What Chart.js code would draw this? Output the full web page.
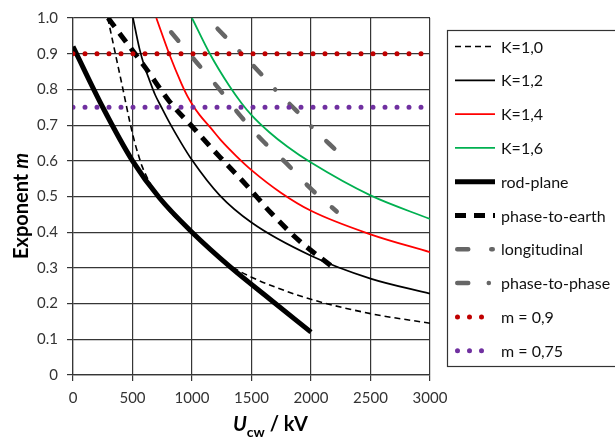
<!DOCTYPE html>
<html>
<head>
<meta charset="utf-8">
<script src="https://cdn.jsdelivr.net/npm/chart.js@4.4.1/dist/chart.umd.min.js"></script>
<style>
  html, body { margin: 0; padding: 0; background: #fff; }
  #wrap { width: 615px; height: 437px; }
</style>
</head>
<body>
<div id="wrap"><canvas id="chart" width="615" height="437"></canvas></div>
<script>
// values (U in kV, m exponent)
const k10U = [292, 356, 420, 480, 520, 546, 580, 620, 670, 714, 800, 1000, 1200, 1340, 1500, 1709, 2000, 2500, 3000]
const k10M = [1.0, 0.9, 0.8, 0.705, 0.65, 0.62, 0.585, 0.555, 0.524, 0.503, 0.463, 0.398, 0.338, 0.302, 0.274, 0.245, 0.212, 0.172, 0.145]

const k12U = [504, 560, 600, 640, 690, 743, 812, 900, 1000, 1233, 1500, 2000, 2500, 3000]
const k12M = [1.0, 0.912, 0.865, 0.828, 0.785, 0.75, 0.706, 0.655, 0.602, 0.503, 0.427, 0.334, 0.27, 0.228]

const k14U = [700, 808, 913, 960, 1008, 1065, 1150, 1250, 1370, 1500, 1750, 2000, 2500, 3000]
const k14M = [1.0, 0.9, 0.815, 0.782, 0.755, 0.728, 0.695, 0.655, 0.614, 0.574, 0.51, 0.46, 0.394, 0.344]

const k16U = [1000, 1150, 1317, 1415, 1500, 1650, 1800, 2000, 2500, 3000]
const k16M = [1.0, 0.9, 0.808, 0.762, 0.728, 0.68, 0.64, 0.595, 0.503, 0.437]

const rodU = [0, 250, 500, 729, 1000, 1331, 1653, 2000]
const rodM = [0.92, 0.75, 0.6, 0.495, 0.4, 0.3, 0.213, 0.12]

const pteU = [295, 398, 608, 804, 1023, 1233, 1457, 1667, 1905, 2149, 2190]
const pteM = [1.0, 0.954, 0.861, 0.769, 0.688, 0.611, 0.532, 0.453, 0.375, 0.311, 0.30]

const longU = [825, 1048, 1224, 1409, 1594, 1796, 1998, 2216]
const longM = [0.96, 0.872, 0.803, 0.725, 0.656, 0.592, 0.522, 0.458]

const ptpU = [1215, 1578, 1721, 1881, 2032, 2216]
const ptpM = [0.97, 0.844, 0.792, 0.739, 0.686, 0.628]

const m09U = [0, 3000]
const m09M = [0.9, 0.9]
const m075U = [0, 3000]
const m075M = [0.75, 0.75]

const labels = ['K=1,0', 'K=1,2', 'K=1,4', 'K=1,6', 'rod-plane', 'phase-to-earth', 'longitudinal', 'phase-to-phase', 'm = 0,9', 'm = 0,75']

const pts = (xs, ys) => xs.map((x, i) => ({ x: x, y: ys[i] }))

const line = (label, xs, ys, color, width, dash, cap, order) => ({
    label: label,
    data: pts(xs, ys),
    borderColor: color,
    borderWidth: width,
    borderDash: dash,
    borderCapStyle: cap,
    pointRadius: 0,
    cubicInterpolationMode: 'monotone',
    fill: false,
    order: order
})

const datasets = [
    line(labels[0], k10U, k10M, '#000000', 1.6, [6, 4], 'butt', 2),
    line(labels[1], k12U, k12M, '#000000', 1.7, [], 'butt', 2),
    line(labels[2], k14U, k14M, '#ff0000', 1.8, [], 'butt', 2),
    line(labels[3], k16U, k16M, '#00b050', 1.8, [], 'butt', 2),
    line(labels[4], rodU, rodM, '#000000', 5, [], 'butt', 1),
    line(labels[5], pteU, pteM, '#000000', 5, [11, 8], 'butt', 2),
    line(labels[6], longU, longM, '#666666', 4.5, [11, 23], 'round', 2),
    line(labels[7], ptpU, ptpM, '#666666', 4.5, [11, 20.5, 0.1, 20.5], 'round', 2),
    line(labels[8], m09U, m09M, '#c00000', 5, [0, 12], 'round', 0),
    line(labels[9], m075U, m075M, '#7030a0', 5, [0, 12], 'round', 0)
]

const gridColor = '#363636'

// legend box + axis titles drawn by hand (subscript / italic)
const decor = {
    id: 'decor',
    afterDraw(chart) {
        const ctx = chart.ctx
        ctx.save()
        ctx.strokeStyle = '#333'
        ctx.lineWidth = 1.2
        ctx.setLineDash([])
        ctx.strokeRect(447.5, 30.5, 220, 336)

        chart.data.datasets.forEach((ds, i) => {
            const y = 46.5 + i * 33.8
            const round = ds.borderCapStyle === 'round'
            const x0 = 455 + (round ? ds.borderWidth / 2 : 0)
            const x1 = 495 - (round ? ds.borderWidth / 2 : 0)
            ctx.beginPath()
            ctx.setLineDash(ds.borderDash)
            ctx.lineCap = ds.borderCapStyle
            ctx.lineWidth = ds.borderWidth
            ctx.strokeStyle = ds.borderColor
            ctx.moveTo(x0, y)
            ctx.lineTo(x1, y)
            ctx.stroke()
            ctx.setLineDash([])
            ctx.fillStyle = '#111'
            ctx.font = '16px Lato'
            ctx.textBaseline = 'middle'
            ctx.textAlign = 'left'
            ctx.fillText(ds.label, 501, y + 1)
        })

        // y title
        ctx.save()
        ctx.translate(28, 206)
        ctx.rotate(-Math.PI / 2)
        ctx.fillStyle = '#000'
        ctx.textBaseline = 'alphabetic'
        ctx.textAlign = 'left'
        ctx.font = 'bold 20px Lato'
        const t1 = 'Exponent '
        const w1 = ctx.measureText(t1).width
        ctx.font = 'bold italic 20px Lato'
        const w2 = ctx.measureText('m').width
        let sx = -(w1 + w2) / 2
        ctx.font = 'bold 20px Lato'
        ctx.fillText(t1, sx, 0)
        ctx.font = 'bold italic 20px Lato'
        ctx.fillText('m', sx + w1, 0)
        ctx.restore()

        // x title
        ctx.fillStyle = '#000'
        ctx.textBaseline = 'alphabetic'
        ctx.textAlign = 'left'
        let x = 233
        ctx.font = 'bold italic 20px Lato'
        ctx.fillText('U', x, 431)
        x += ctx.measureText('U').width
        ctx.font = 'bold 14px Lato'
        ctx.fillText('cw', x, 437)
        x += ctx.measureText('cw').width
        ctx.font = 'bold 20px Lato'
        ctx.fillText(' / kV', x, 431)
        ctx.restore()
    }
}

new Chart(document.getElementById('chart'), {
    type: 'line',
    data: { datasets: datasets },
    options: {
        responsive: false,
        animation: false,
        layout: { padding: { left: 0, right: 185, top: 17, bottom: 0 } },
        plugins: { legend: { display: false }, tooltip: { enabled: false } },
        scales: {
            x: {
                type: 'linear',
                min: 0,
                max: 3000,
                afterFit: s => { s.height = 62 },
                ticks: {
                    stepSize: 500,
                    color: '#333',
                    font: { family: 'Lato', size: 15 },
                    padding: 8,
                    callback: v => String(v)
                },
                grid: { color: gridColor, lineWidth: 1.2, tickLength: 6, tickColor: gridColor },
                border: { color: gridColor, width: 1.2 }
            },
            y: {
                min: 0,
                max: 1,
                afterFit: s => { s.width = 73 },
                ticks: {
                    stepSize: 0.1,
                    color: '#333',
                    font: { family: 'Lato', size: 15 },
                    padding: 9,
                    callback: v => v === 0 ? '0' : v.toFixed(1)
                },
                grid: { color: gridColor, lineWidth: 1.2, tickLength: 6, tickColor: gridColor },
                border: { color: gridColor, width: 1.2 }
            }
        }
    },
    plugins: [decor]
})
</script>
</body>
</html>
